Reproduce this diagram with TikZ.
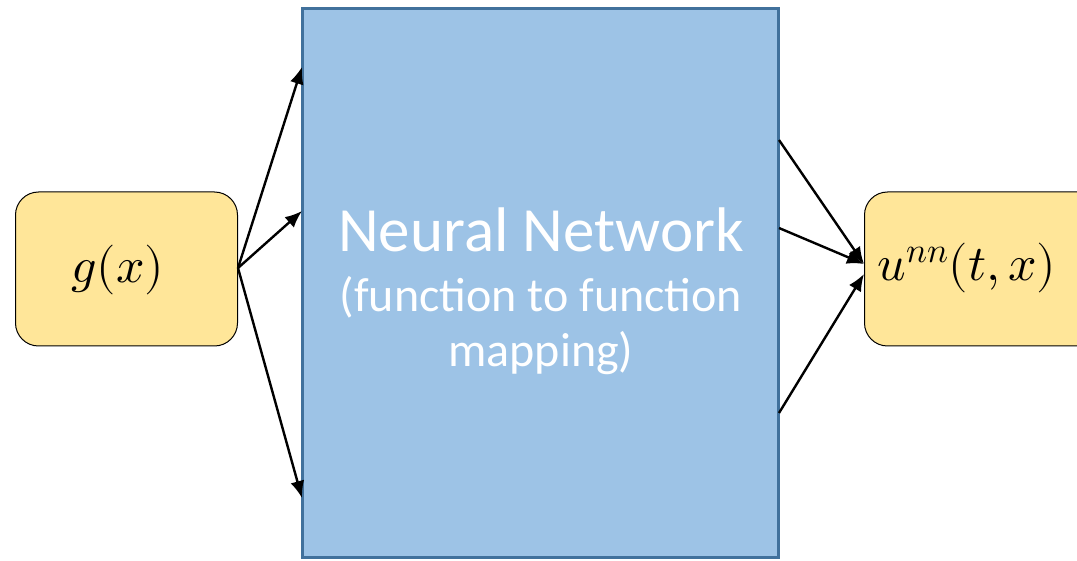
\documentclass[tikz,border=0pt]{standalone}
\usepackage{fontspec}
\usepackage{unicode-math}
\setmainfont{Carlito}
\setmathfont{Latin Modern Math}
\usetikzlibrary{arrows.meta}
\definecolor{nnblue}{HTML}{9DC3E6}
\definecolor{nnedge}{HTML}{41719C}
\definecolor{boxyellow}{HTML}{FFE699}
\begin{document}
\begin{tikzpicture}[x=1pt,y=-1pt,
  iobox/.style={draw=black, line width=1pt, fill=boxyellow, rounded corners=23pt, inner sep=0pt},
  conn/.style={line width=2.4pt, -{Latex[length=17pt,width=14pt]}}]
\useasboundingbox (0,0) rectangle (1077,561);
\fill[white] (0,0) rectangle (1077,561);
\path[draw=nnedge, fill=nnblue, line width=3pt] (302,9) rectangle (778,557);
\node[text=white, font=\fontsize{63}{70}\selectfont] (title) at (541,230) {Neural Network};
\node[text=white, font=\fontsize{48}{55}\selectfont, align=center] (sub) at (541,326) {(function to function\\mapping)};
\node[iobox, minimum width=222pt, minimum height=154pt] (g) at (126.5,269) {};
\node[font=\fontsize{50}{56}\selectfont] (gl) at (118,270) {$g(x)$};
\node[iobox, minimum width=250pt, minimum height=154pt, anchor=west] (u) at (864,269) {};
\node[font=\fontsize{50}{56}\selectfont] (ul) at (967,268) {$u^{nn}(t,x)$};
\coordinate (gs) at (238,268);
\coordinate (i1) at (302,67);
\coordinate (i2) at (302,211);
\coordinate (i3) at (302,498);
\coordinate (o1) at (779,140);
\coordinate (o2) at (779,228);
\coordinate (o3) at (779,413);
\coordinate (t1) at (864,264);
\coordinate (t2) at (864,264);
\coordinate (t3) at (864,274);
\draw[conn] (gs) -- (i1);
\draw[conn] (gs) -- (i2);
\draw[conn] (gs) -- (i3);
\draw[conn] (o1) -- (t1);
\draw[conn] (o2) -- (t2);
\draw[conn] (o3) -- (t3);
\end{tikzpicture}
\end{document}
